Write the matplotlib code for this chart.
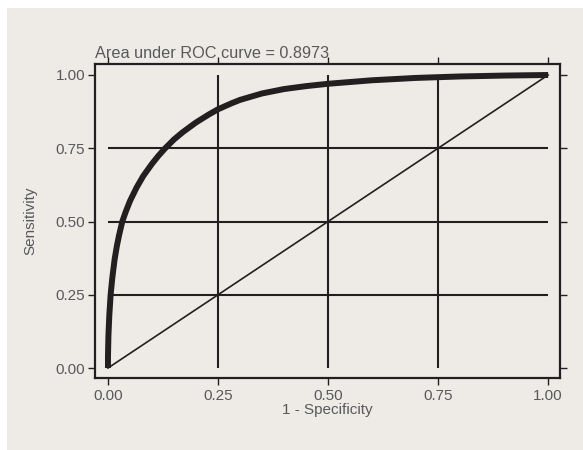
import matplotlib
matplotlib.use("Agg")
import matplotlib.pyplot as plt
from matplotlib.patches import Rectangle

# ROC curve (1 - specificity, sensitivity)
fpr = [0.0, 0.0, 0.001, 0.003, 0.006, 0.01, 0.015, 0.02, 0.025, 0.0325,
       0.04, 0.05, 0.065, 0.08, 0.1, 0.115, 0.13, 0.15, 0.17, 0.2, 0.23,
       0.25, 0.28, 0.3, 0.35, 0.4, 0.45, 0.5, 0.6, 0.7, 0.8, 0.9, 1.0]
tpr = [0.0, 0.04, 0.11, 0.18, 0.25, 0.31, 0.37, 0.415, 0.452, 0.5,
       0.532, 0.57, 0.616, 0.655, 0.697, 0.725, 0.75, 0.78, 0.805, 0.838, 0.866,
       0.883, 0.903, 0.915, 0.937, 0.952, 0.962, 0.97, 0.982, 0.99, 0.995, 0.998, 1.0]
chance = [0.0, 1.0]
ticks = [0.0, 0.25, 0.5, 0.75, 1.0]
tick_labels = ["0.00", "0.25", "0.50", "0.75", "1.00"]
grid_at = [0.25, 0.5, 0.75]
auc_text = "Area under ROC curve = 0.8973"

bg = "#eeebe7"
ink = "#231f20"
txt = "#58595b"
plt.rcParams["font.family"] = ["Liberation Sans", "DejaVu Sans"]

fig = plt.figure(figsize=(5.83, 4.5), dpi=100)
fig.patch.set_facecolor("white")
fig.patches.append(Rectangle((7 / 583, 0), 1, 1 - 8 / 450, transform=fig.transFigure,
                             facecolor=bg, edgecolor="none", zorder=-10))

ax = fig.add_axes([95 / 583, 1 - 378 / 450, 465 / 583, 314 / 450])
ax.set_facecolor(bg)

# grid lines only across the data range
ax.hlines(grid_at, 0, 1, color=ink, lw=1.5)
ax.vlines(grid_at, 0, 1, color=ink, lw=1.5)

ax.plot(chance, chance, color=ink, lw=1.2)
ax.plot(fpr, tpr, color=ink, lw=4.3, solid_capstyle="butt", solid_joinstyle="round")

ax.set_xlim(-0.0295, 1.027)
ax.set_ylim(-0.034, 1.0375)
ax.set_xticks(ticks)
ax.set_xticklabels(tick_labels)
ax.set_yticks(ticks)
ax.set_yticklabels(tick_labels)
ax.tick_params(axis="both", direction="out", length=5, width=1, color=ink,
               labelcolor=txt, labelsize=11, top=True, right=True)
ax.tick_params(axis="x", pad=3)
ax.tick_params(axis="y", pad=2)
for s in ax.spines.values():
    s.set_color(ink)
    s.set_linewidth(1.6)

ax.set_xlabel("1 - Specificity", color=txt, fontsize=11, labelpad=0)
ax.set_ylabel("Sensitivity", color=txt, fontsize=11, labelpad=13)
ax.text(0, 1.01, auc_text, transform=ax.transAxes, ha="left", va="bottom",
        color=txt, fontsize=11.7)

fig.savefig("out.png", dpi=100, facecolor=fig.get_facecolor())
